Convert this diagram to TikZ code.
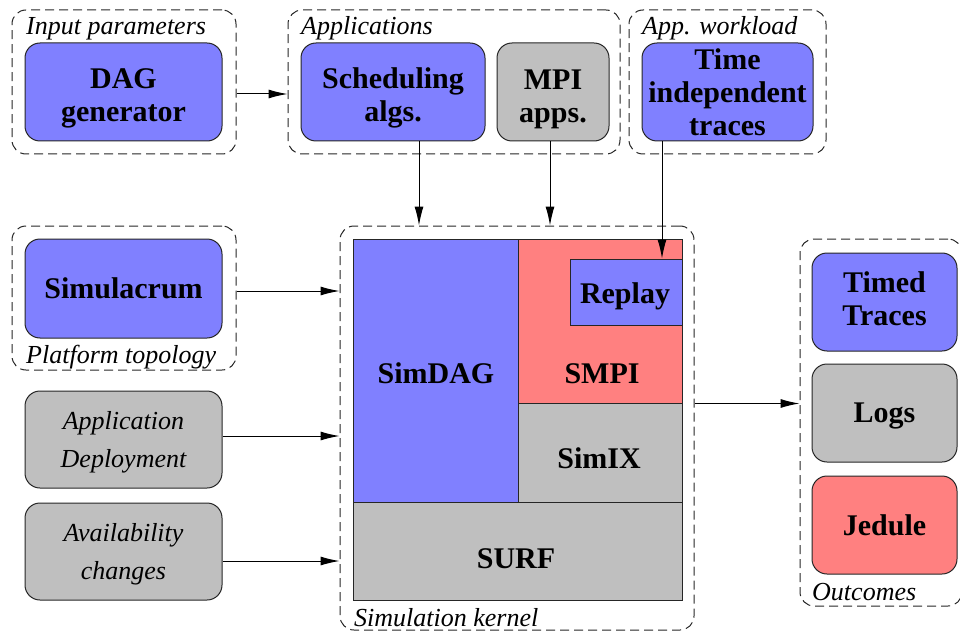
\documentclass[tikz,border=0pt]{standalone}
\usepackage{fontspec}
\setmainfont{LiberationSerif}[Extension=.ttf, UprightFont=*-Regular, BoldFont=*-Bold, ItalicFont=*-Italic, BoldItalicFont=*-BoldItalic]
\usetikzlibrary{arrows.meta}
\definecolor{cblue}{RGB}{128,128,255}
\definecolor{cred}{RGB}{255,128,128}
\definecolor{cgray}{RGB}{191,191,191}
\newcommand{\tstrut}[1]{\rule{0pt}{#1}}
\newcommand{\bstrut}[1]{\rule[-#1]{0pt}{#1}}
\begin{document}
\begin{tikzpicture}[x=1pt,y=-1pt,
  box/.style={draw=black!85, line width=1pt, rounded corners=15pt, inner sep=0pt, align=center,
    font=\fontsize{30}{33}\selectfont\bfseries},
  ibox/.style={box, font=\fontsize{26}{38}\selectfont\itshape},
  grp/.style={draw=black!85, line width=1pt, dash pattern=on 9pt off 5pt, rounded corners=14pt, inner sep=0pt},
  lbl/.style={anchor=base west, inner sep=0pt, font=\fontsize{26}{28}\selectfont\itshape},
  layer/.style={draw=black!85, line width=1pt, inner sep=0pt},
  ltxt/.style={anchor=base, inner sep=0pt, font=\fontsize{30}{33}\selectfont\bfseries},
  arr/.style={-{Latex[length=19pt,width=9pt]}, line width=1pt}]
\useasboundingbox (0,0) rectangle (960,631);

% top groups
\node[grp, minimum width=224pt, minimum height=144pt] (gin) at (124,82) {};
\node[box, fill=cblue, minimum width=197pt, minimum height=98pt] (dag) at (123.5,92) {\tstrut{33.5pt}DAG\\generator};
\node[lbl] (lin) at (26,35) {Input parameters};

\node[grp, minimum width=332pt, minimum height=144pt] (gapp) at (454,82) {};
\node[box, fill=cblue, minimum width=184pt, minimum height=98pt] (sched) at (393,92) {\tstrut{33.5pt}Scheduling\\algs.};
\node[box, fill=cgray, minimum width=112pt, minimum height=98pt] (mpi) at (553,92) {\tstrut{33.5pt}MPI\\apps.};
\node[lbl] (lapp) at (301,35) {Applications};

\node[grp, minimum width=197pt, minimum height=144pt] (gwl) at (727.5,82) {};
\node[box, fill=cblue, minimum width=171pt, minimum height=98pt] (tit) at (727.5,92) {Time\\independent\\traces};
\node[lbl] (lwl) at (642,35) {App. workload};

% left side
\node[grp, minimum width=224pt, minimum height=144pt] (gplat) at (124,298) {};
\node[box, fill=cblue, minimum width=197pt, minimum height=99pt] (simu) at (123.5,288.5) {Simulacrum};
\node[lbl] (lplat) at (26,363) {Platform topology};

\node[ibox, fill=cgray, minimum width=197pt, minimum height=97pt] (deploy) at (123.5,439.5) {\tstrut{24.6pt}Application\\Deployment};
\node[ibox, fill=cgray, minimum width=197pt, minimum height=97pt] (avail) at (123.5,551.5) {\tstrut{22.6pt}Availability\\changes};

% kernel
\node[grp, minimum width=354pt, minimum height=404pt] (gker) at (517,428) {};
\node[layer, fill=cblue, minimum width=165pt, minimum height=263pt] (simdag) at (435.5,370.5) {};
\node[layer, fill=cred, minimum width=164pt, minimum height=164pt] (smpi) at (600,321) {};
\node[layer, fill=cblue, minimum width=112pt, minimum height=66pt] (replay) at (626,292) {};
\node[layer, fill=cgray, minimum width=164pt, minimum height=99pt] (simix) at (600,452.5) {};
\node[layer, fill=cgray, minimum width=329pt, minimum height=98pt] (surf) at (517.5,551) {};
\node[ltxt] (tsimdag) at (436,383) {SimDAG};
\node[ltxt] (tsmpi) at (602,383) {SMPI};
\node[ltxt] (treplay) at (625,303) {Replay};
\node[ltxt] (tsimix) at (599,468) {SimIX};
\node[ltxt] (tsurf) at (516,568) {SURF};
\node[lbl] (lker) at (354,626) {Simulation kernel};

% outcomes
\node[grp, minimum width=162pt, minimum height=367pt] (gout) at (881,422.5) {};
\node[box, fill=cblue, minimum width=145pt, minimum height=98pt] (timed) at (884.5,302) {Timed\\Traces\bstrut{7pt}};
\node[box, fill=cgray, minimum width=145pt, minimum height=98pt, text depth=0pt] (logs) at (884.5,413) {Logs};
\node[box, fill=cred, minimum width=145pt, minimum height=98pt] (jedule) at (884.5,525) {Jedule};
\node[lbl] (lout) at (812,600) {Outcomes};

% connectors
\draw[arr] ([yshift=-12pt]gin.east) -- ([yshift=-12pt]gapp.west);
\draw[arr] ([xshift=26pt]sched.south) -- ([xshift=26pt]sched.south |- gker.north);
\draw[arr] ([xshift=-3pt]mpi.south) -- ([xshift=-3pt]mpi.south |- gker.north);
\draw[arr] ([xshift=-65.5pt]tit.south) -- ([xshift=-65.5pt]tit.south |- replay.north);
\draw[arr] ([yshift=7pt]gplat.east) -- ([yshift=7pt]gplat.east -| gker.west);
\draw[arr] ([yshift=3.5pt]deploy.east) -- ([yshift=3.5pt]deploy.east -| gker.west);
\draw[arr] ([yshift=-9.5pt]avail.east) -- ([yshift=-9.5pt]avail.east -| gker.west);
\draw[arr] (smpi.south -| gker.east) -- (smpi.south -| gout.west);
\end{tikzpicture}
\end{document}
